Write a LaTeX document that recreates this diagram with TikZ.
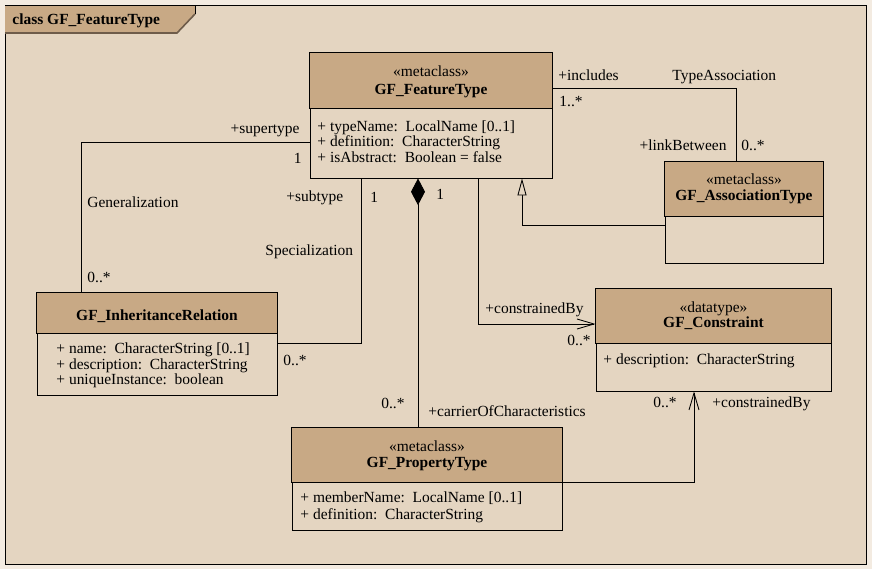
\documentclass[tikz,border=0pt]{standalone}
\usepackage{fontspec}
\setmainfont{Liberation Serif}
\usetikzlibrary{arrows.meta,fit}
\definecolor{umlout}{HTML}{F3EBE1}
\definecolor{umlbg}{HTML}{E4D5C1}
\definecolor{umlhead}{HTML}{C8A985}
\definecolor{umltab}{HTML}{6E5C4A}
\tikzset{
  classbox/.style={draw, fill=umlbg, inner sep=0pt},
  headfill/.style={draw, fill=umlhead},
  cname/.style={inner sep=0pt, anchor=base, font=\fontsize{11.6}{13}\selectfont\bfseries},
  stereo/.style={inner sep=0pt, anchor=base},
  attr/.style={inner sep=0pt, anchor=base west},
  lbl/.style={inner sep=0pt, anchor=base west},
  rlbl/.style={inner sep=0pt, anchor=base east},
  barb/.style={-{Straight Barb[length=12.75pt,width=7.5pt]}},
}
\begin{document}
\begin{tikzpicture}[x=0.75pt,y=-0.75pt,line width=0.65pt,font=\fontsize{11.6}{13}\selectfont]
  \useasboundingbox (0,0) rectangle (872,569);
  \fill[umlout] (0,0) rectangle (872,569);
  % frame
  \draw[fill=umlbg] (5,5) rectangle (866,564);
  \fill[umlhead] (5,5) -- (195,5) -- (195,14) -- (177,33) -- (5,33) -- cycle;
  \draw (5,5) -- (195,5) -- (195,14);
  \draw[umltab,line width=1.2pt] (195,14) -- (177,33) -- (5,33);
  \node[attr,font=\fontsize{11.6}{13}\selectfont\bfseries] (frametitle) at (12,24.5) {class GF\_FeatureType};

  % classes
  \node[classbox,fit={(310,53) (552,178)}] (ft) {};
  \draw[headfill] (ft.north west) rectangle (ft.east |- 0,108);
  \node[stereo] (ftst) at (431,76) {«metaclass»};
  \node[cname] (ftnm) at (431,94) {GF\_FeatureType};
  \node[attr] (fta1) at (317,131) {+ typeName:\ \ LocalName [0..1]};
  \node[attr] (fta2) at (317,146.7) {+ definition:\ \ CharacterString};
  \node[attr] (fta3) at (317,162.4) {+ isAbstract:\ \ Boolean = false};

  \node[classbox,fit={(665,162) (823,263)}] (at) {};
  \draw[headfill] (at.north west) rectangle (at.east |- 0,216);
  \node[stereo] (atst) at (744,184.5) {«metaclass»};
  \node[cname] (atnm) at (744,200) {GF\_AssociationType};

  \node[classbox,fit={(37,293) (277,395)}] (ir) {};
  \draw[headfill] (ir.north west) rectangle (ir.east |- 0,333);
  \node[cname] (irnm) at (157,320) {GF\_InheritanceRelation};
  \node[attr] (ira1) at (56,353.5) {+ name:\ \ CharacterString [0..1]};
  \node[attr] (ira2) at (56,369.2) {+ description:\ \ CharacterString};
  \node[attr] (ira3) at (56,384.9) {+ uniqueInstance:\ \ boolean};

  \node[classbox,fit={(596,289) (831,391)}] (co) {};
  \draw[headfill] (co.north west) rectangle (co.east |- 0,343);
  \node[stereo] (cost) at (713.5,312) {«datatype»};
  \node[cname] (conm) at (713.5,327) {GF\_Constraint};
  \node[attr] (coa1) at (603,364) {+ description:\ \ CharacterString};

  \node[classbox,fit={(292,428) (562,530)}] (pt) {};
  \draw[headfill] (pt.north west) rectangle (pt.east |- 0,482);
  \node[stereo] (ptst) at (427,451) {«metaclass»};
  \node[cname] (ptnm) at (427,467) {GF\_PropertyType};
  \node[attr] (pta1) at (300,502.5) {+ memberName:\ \ LocalName [0..1]};
  \node[attr] (pta2) at (300,519) {+ definition:\ \ CharacterString};

  % TypeAssociation
  \draw (ft.east |- 0,88) -| (736,0 |- at.north);
  \node[lbl] (incl) at (558,80) {+includes};
  \node[lbl] (tass) at (672,80) {TypeAssociation};
  \node[lbl] (inclm) at (559,106.5) {1..*};
  \node[rlbl] (link) at (727,150.5) {+linkBetween};
  \node[lbl] (linkm) at (741,150.5) {0..*};

  % Generalization
  \draw (ft.west |- 0,142) -| (81,0 |- ir.north);
  \node[rlbl] (supt) at (300,133.5) {+supertype};
  \node[rlbl] (suptm) at (302,163) {1};
  \node[lbl] (gen) at (87,207) {Generalization};
  \node[lbl] (genm) at (87,282) {0..*};

  % Specialization
  \draw (361,0 |- ft.south) |- (ir.east |- 0,343);
  \node[lbl] (subt) at (286,201) {+subtype};
  \node[lbl] (subtm) at (370,202.5) {1};
  \node[lbl] (spec) at (265,255) {Specialization};
  \node[lbl] (specm) at (283,365) {0..*};

  % composition
  \draw[-{Diamond[length=20pt,width=10.5pt]}] (418,0 |- pt.north) -- (418,0 |- ft.south);
  \node[lbl] (compm) at (436,199.5) {1};
  \node[rlbl] (carm) at (405,408) {0..*};
  \node[lbl] (car) at (428,416) {+carrierOfCharacteristics};

  % generalization of GF_AssociationType
  \draw[-{Triangle[open,length=12.75pt,width=6.75pt,fill=umlbg]}] (at.west |- 0,225) -| (522,0 |- ft.south);

  % constrainedBy
  \draw[barb] (478,0 |- ft.south) |- (co.west |- 0,324);
  \node[lbl] (cby1) at (485,313) {+constrainedBy};
  \node[lbl] (cby1m) at (567,345) {0..*};
  \draw[barb] (pt.east |- 0,482) -| (694,0 |- co.south);
  \node[lbl] (cby2m) at (653,407) {0..*};
  \node[lbl] (cby2) at (712,407) {+constrainedBy};
\end{tikzpicture}
\end{document}
